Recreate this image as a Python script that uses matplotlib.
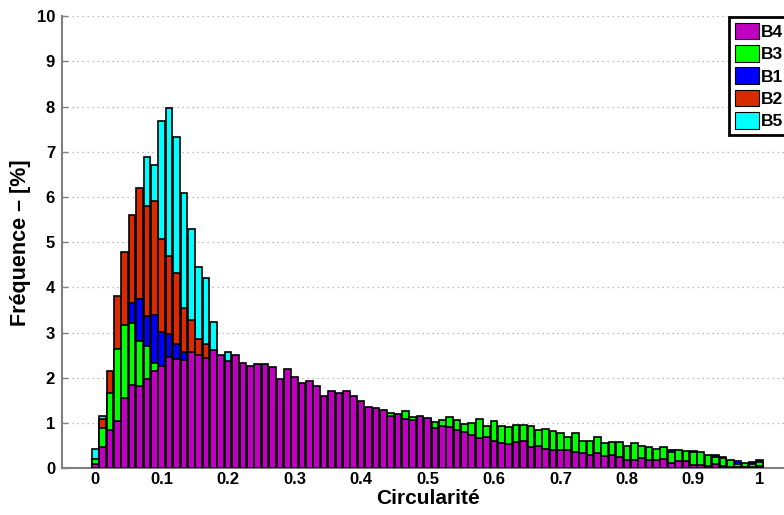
import numpy as np
import matplotlib
matplotlib.use("Agg")
import matplotlib.pyplot as plt
from matplotlib.patches import Patch

plt.rcParams['font.family'] = ['Liberation Sans', 'DejaVu Sans']
plt.rcParams['font.weight'] = 'bold'

# bin centres of the histogram (91 bins between 0 and 1)
circ = np.linspace(0, 1, 91)

B4 = [0.10, 0.46, 0.84, 1.05, 1.55, 1.85, 1.81, 1.98, 2.16, 2.26,
      2.46, 2.42, 2.40, 2.57, 2.51, 2.43, 2.62, 2.51, 2.37, 2.51,
      2.34, 2.27, 2.31, 2.31, 2.23, 1.98, 2.20, 2.03, 1.89, 1.94,
      1.82, 1.60, 1.72, 1.67, 1.72, 1.61, 1.48, 1.36, 1.33, 1.29,
      1.16, 1.19, 1.10, 1.07, 1.16, 1.11, 0.90, 0.94, 0.92, 0.85,
      0.80, 0.74, 0.66, 0.69, 0.60, 0.55, 0.54, 0.59, 0.60, 0.48,
      0.49, 0.43, 0.41, 0.40, 0.40, 0.35, 0.34, 0.30, 0.33, 0.27,
      0.30, 0.24, 0.18, 0.18, 0.22, 0.18, 0.18, 0.21, 0.11, 0.17,
      0.16, 0.07, 0.07, 0.06, 0.09, 0.04, 0.03, 0.03, 0.02, 0.02,
      0.05]

B3 = [0.20, 0.90, 1.67, 2.63, 3.16, 3.21, 2.81, 2.70, 2.34, 2.10,
      2.05, 2.00, 1.95, 1.90, 1.85, 1.80, 1.75, 1.70, 1.66, 1.62,
      1.58, 1.55, 1.52, 1.49, 1.46, 1.43, 1.41, 1.39, 1.37, 1.35,
      1.33, 1.31, 1.30, 1.29, 1.28, 1.27, 1.26, 1.25, 1.24, 1.22,
      1.22, 1.15, 1.26, 1.13, 1.12, 1.08, 1.03, 1.06, 1.14, 1.07,
      0.98, 1.01, 1.10, 0.94, 1.04, 0.94, 0.92, 0.95, 0.95, 0.94,
      0.85, 0.88, 0.83, 0.78, 0.69, 0.78, 0.61, 0.61, 0.69, 0.57,
      0.59, 0.59, 0.49, 0.55, 0.50, 0.46, 0.43, 0.46, 0.35, 0.40,
      0.38, 0.35, 0.35, 0.30, 0.24, 0.22, 0.18, 0.09, 0.11, 0.09,
      0.13]

B1 = [0.10, 0.50, 1.20, 2.10, 2.90, 3.66, 3.75, 3.36, 3.39, 3.02,
      2.97, 2.76, 2.58, 2.35, 2.15, 2.00, 1.85, 1.72, 1.60, 1.50,
      1.42, 1.35, 1.28, 1.22, 1.16, 1.10, 1.05, 1.00, 0.96, 0.92,
      0.88, 0.85, 0.82, 0.79, 0.76, 0.73, 0.70, 0.68, 0.66, 0.64,
      0.62, 0.61, 0.60, 0.59, 0.58, 0.57, 0.56, 0.55, 0.54, 0.53,
      0.52, 0.51, 0.50, 0.49, 0.48, 0.48, 0.47, 0.47, 0.46, 0.46,
      0.45, 0.45, 0.44, 0.44, 0.43, 0.43, 0.43, 0.42, 0.42, 0.42,
      0.41, 0.41, 0.41, 0.40, 0.40, 0.40, 0.39, 0.40, 0.41, 0.37,
      0.35, 0.39, 0.32, 0.27, 0.29, 0.26, 0.16, 0.17, 0.10, 0.13,
      0.18]

B2 = [0.15, 1.09, 2.16, 3.81, 4.79, 5.61, 6.19, 5.81, 5.92, 5.07,
      4.70, 4.32, 3.54, 3.28, 2.86, 2.74, 2.35, 2.10, 1.85, 1.65,
      1.45, 1.30, 1.15, 1.02, 0.92, 0.83, 0.75, 0.68, 0.62, 0.56,
      0.51, 0.46, 0.42, 0.38, 0.35, 0.32, 0.29, 0.27, 0.25, 0.23,
      0.21, 0.20, 0.19, 0.18, 0.17, 0.16, 0.15, 0.14, 0.13, 0.13,
      0.12, 0.11, 0.10, 0.10, 0.09, 0.09, 0.08, 0.08, 0.07, 0.07,
      0.06, 0.06, 0.05, 0.05, 0.05, 0.04, 0.04, 0.04, 0.04, 0.03,
      0.03, 0.03, 0.03, 0.03, 0.02, 0.02, 0.02, 0.02, 0.02, 0.02,
      0.02, 0.01, 0.01, 0.01, 0.01, 0.01, 0.01, 0.01, 0.01, 0.01,
      0.01]

B5 = [0.42, 1.16, 1.60, 2.30, 3.30, 4.50, 5.50, 6.88, 6.71, 7.69,
      7.96, 7.34, 6.10, 5.29, 4.46, 4.20, 3.23, 2.40, 2.58, 2.20,
      1.95, 1.70, 1.50, 1.32, 1.15, 1.00, 0.88, 0.77, 0.67, 0.59,
      0.52, 0.45, 0.40, 0.35, 0.31, 0.27, 0.24, 0.21, 0.19, 0.17,
      0.15, 0.14, 0.13, 0.12, 0.11, 0.10, 0.10, 0.09, 0.08, 0.08,
      0.07, 0.07, 0.06, 0.06, 0.06, 0.05, 0.05, 0.05, 0.04, 0.04,
      0.04, 0.04, 0.03, 0.03, 0.03, 0.03, 0.03, 0.02, 0.02, 0.02,
      0.02, 0.02, 0.02, 0.02, 0.02, 0.01, 0.01, 0.01, 0.01, 0.01,
      0.01, 0.01, 0.01, 0.01, 0.01, 0.01, 0.01, 0.01, 0.01, 0.01,
      0.01]

# drawing order: back to front
series = [("B5", B5, "#00FFFF"),
          ("B2", B2, "#D92B00"),
          ("B1", B1, "#0000FF"),
          ("B3", B3, "#00FF00"),
          ("B4", B4, "#BF00BF")]
legend_order = ["B4", "B3", "B1", "B2", "B5"]

fig = plt.figure(figsize=(7.84, 5.15), dpi=100)
ax = fig.add_axes([0.0791, 0.0907, 0.9324, 0.8777])

width = (circ[1] - circ[0]) * 0.9
for name, vals, col in series:
    ax.bar(circ, vals, width=width, color=col, edgecolor="black",
           linewidth=1.2, zorder=3)

ax.set_xlim(-0.05, 1.05)
ax.set_ylim(0, 10)
ax.set_xticks(np.arange(0, 1.01, 0.1))
ax.set_xticklabels(["0", "0.1", "0.2", "0.3", "0.4", "0.5", "0.6", "0.7",
                    "0.8", "0.9", "1"])
ax.set_yticks(range(0, 11))
ax.tick_params(direction="in", length=4, width=1, color="#808080",
               labelsize=12, pad=5)
ax.tick_params(axis="x", pad=3)
for lab in ax.get_xticklabels() + ax.get_yticklabels():
    lab.set_fontweight("bold")

ax.grid(axis="y", linestyle=(0, (1, 3)), color="#AAAAAA", linewidth=0.9,
        zorder=0)
for s in ["top", "right"]:
    ax.spines[s].set_visible(False)
for s in ["left", "bottom"]:
    ax.spines[s].set_color("#808080")
    ax.spines[s].set_linewidth(1.5)

ax.set_xlabel("Circularité", fontsize=15, fontweight="bold", labelpad=1)
ax.set_ylabel("Fréquence – [%]", fontsize=15.5, fontweight="bold", labelpad=4)

colors = {n: c for n, _, c in series}
handles = [Patch(facecolor=colors[n], edgecolor="black", linewidth=0.8,
                 label=n) for n in legend_order]
leg = ax.legend(handles=handles, loc="upper left",
                bbox_to_anchor=(729 / 784, 1 - 17 / 515),
                bbox_transform=fig.transFigure, fancybox=False,
                framealpha=1, edgecolor="black",
                prop={"weight": "bold", "size": 12.5},
                handlelength=1.38, handleheight=1.09, handletextpad=0.15,
                labelspacing=0.3, borderpad=0.32, borderaxespad=0)
leg.get_frame().set_linewidth(2)
leg.set_zorder(5)

fig.savefig("out.png", dpi=100)
